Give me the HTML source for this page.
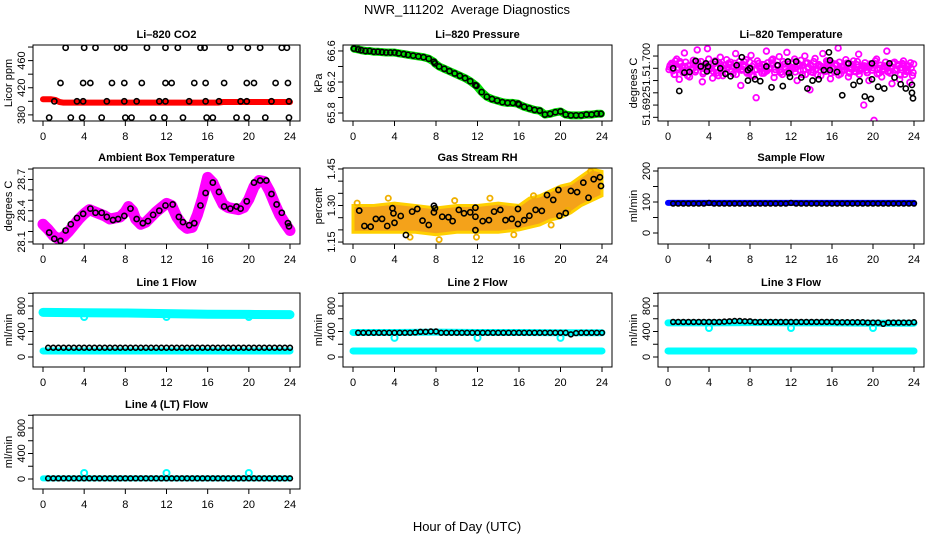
<!DOCTYPE html>
<html><head><meta charset="utf-8"><style>
html,body{margin:0;padding:0;background:#fff;}
svg{display:block;font-family:"Liberation Sans",Arial,sans-serif;}
.t{font-size:11px;fill:#000;}
.ttl{font-size:11px;font-weight:bold;fill:#000;}
</style></head><body>
<svg id="c" width="936" height="540" viewBox="0 0 936 540">
<text x="467" y="14" text-anchor="middle" style="font-size:13px;white-space:pre">NWR_111202&#160;&#160;Average Diagnostics</text>
<text x="467" y="531" text-anchor="middle" style="font-size:13px">Hour of Day (UTC)</text>
</svg>
<script>
// ---------- data ----------
const co2BlackHours=[2.2,4.0,5.1,7.2,7.9,10.1,11.9,13.1,15.3,15.7,18.2,19.9,21.1,23.2,23.7,1.7,3.9,4.6,6.7,7.9,9.6,11.9,12.5,14.7,15.8,17.6,19.8,20.5,22.6,23.8,1.1,3.3,3.9,6.2,7.9,9.1,11.3,11.9,14.2,15.8,17.1,19.2,19.8,22.2,23.9,0.6,2.7,3.8,5.7,8.0,8.6,10.7,11.8,13.6,15.9,16.5,18.8,19.8,21.6,23.9];
const co2BlackValues=[479,479,479,479,479,479,479,479,479,479,479,479,479,479,479,427,427,427,427,427,427,427,427,427,427,427,427,427,427,427,400,400,400,400,400,400,400,400,400,400,400,400,400,400,400,376,376,376,376,376,376,376,376,376,376,376,376,376,376,376];
const co2RedHours=[0,0.8,1.2,1.6,2,6,10,14,17,17.5,20,24];
const co2RedValues=[403,403,402,399,398,398,398,398,398,399,399,399];

const presHours=[0.1,0.5,0.8,1.2,1.6,2.0,2.4,2.8,3.2,3.6,4.0,4.4,4.9,5.3,5.8,6.3,6.8,7.3,7.8,7.9,8.3,8.8,9.3,9.8,10.3,10.8,11.3,11.8,11.9,12.4,12.9,13.4,13.9,14.4,14.9,15.4,15.9,16.0,16.5,17.0,17.5,18.0,18.5,19.0,19.5,20.0,20.5,21.0,21.5,22.0,22.5,23.0,23.5,23.9];
const presValues=[66.63,66.62,66.61,66.60,66.6,66.59,66.59,66.585,66.58,66.58,66.58,66.57,66.56,66.55,66.54,66.53,66.52,66.50,66.46,66.44,66.40,66.37,66.34,66.31,66.28,66.25,66.21,66.16,66.15,66.07,66.01,65.98,65.96,65.94,65.93,65.93,65.92,65.91,65.88,65.86,65.84,65.83,65.78,65.79,65.81,65.82,65.78,65.77,65.77,65.77,65.78,65.78,65.79,65.79];

const tempMagHours=[0.1,0.35,0.6,0.85,1.1,1.35,1.6,1.85,2.1,2.35,2.6,2.85,3.1,3.35,3.6,3.85,4.1,4.35,4.6,4.85,5.1,5.35,5.6,5.85,6.1,6.35,6.6,6.85,7.1,7.35,7.6,7.85,8.1,8.35,8.6,8.85,9.1,9.35,9.6,9.85,10.1,10.35,10.6,10.85,11.1,11.35,11.6,11.85,12.1,12.35,12.6,12.85,13.1,13.35,13.6,13.85,14.1,14.35,14.6,14.85,15.1,15.35,15.6,15.85,16.1,16.35,16.6,16.85,17.1,17.35,17.6,17.85,18.1,18.35,18.6,18.85,19.1,19.35,19.6,19.85,20.1,20.35,20.6,20.85,21.1,21.35,21.6,21.85,22.1,22.35,22.6,22.85,23.1,23.35,23.6,23.85];
const tempMagOffsets=[78,88,70,95,62,82,105,75,66,80,90,110,84,58,86,112,79,64,92,73,98,68,85,81,90,71,104,80,52,83,94,76,101,67,32,88,82,72,108,79,93,65,85,99,74,87,106,77,81,95,60,84,70,100,89,45,78,96,69,83,104,75,92,63,80,87,113,71,82,94,66,79,92,74,103,81,20,77,60,86,-5,95,72,66,84,108,76,55,90,79,62,88,70,83,57,68];
const tempMagOffsets2=[85,76,92,81,88,73,90,84,79,93,77,86,91,74,82,95,80,87,72,89,83,78,94,86,75,88,82,91,79,85,72,90,83,77,92,80,86,74,89,81,95,78,84,73,91,82,87,76,90,80,85,93,77,88,82,74,91,79,86,83,78,92,81,89,74,85,90,77,83,88,72,86,80,91,76,84,89,73,87,81,92,78,85,79,90,74,83,88,77,86,81,92,75,84,80,87];
const tempBlkHours=[0.5,1.1,1.6,2.1,2.7,3.2,3.7,3.8,3.9,4.6,5.1,5.6,6.1,6.7,7.2,7.8,7.8,8.0,8.5,9.0,9.6,10.1,10.7,11.2,11.7,11.8,11.9,12.5,13.0,13.6,14.1,14.7,15.2,15.7,15.8,15.8,16.5,17.0,17.6,18.1,18.7,19.2,19.8,19.9,19.9,20.5,21.1,21.6,22.1,22.7,23.2,23.8,23.8,23.9];
const tempBlkOffsets=[80,43,73,74,92,83,88,75,83,91,80,71,67,85,98,60,77,80,62,59,83,49,85,51,91,72,66,91,65,47,60,62,77,106,93,77,74,36,88,53,59,34,30,62,88,50,47,88,65,54,47,53,40,31];

const ambCurveHours=[0,0.5,1,1.5,2,2.5,3,3.5,4,4.5,5,6,6.5,7,7.5,8,8.3,8.7,9,9.5,10,10.5,11,11.5,12,12.5,13,13.5,14,14.5,15,15.5,16,16.5,17,17.5,18,18.5,19,19.5,20,20.5,21,21.5,22,22.5,23,23.5,24];
const ambCurveValues=[28.27,28.22,28.16,28.13,28.15,28.2,28.26,28.32,28.37,28.41,28.39,28.35,28.32,28.33,28.34,28.39,28.44,28.4,28.32,28.27,28.29,28.34,28.39,28.43,28.47,28.45,28.34,28.27,28.23,28.24,28.36,28.52,28.72,28.67,28.56,28.46,28.43,28.42,28.41,28.43,28.51,28.63,28.69,28.68,28.59,28.47,28.36,28.28,28.21];
const ambBlkHours=[0.6,1.1,1.7,2.2,2.7,3.3,3.9,4.6,5.1,5.7,6.2,6.8,7.3,7.9,8.5,9.1,9.7,10.2,10.7,11.3,11.9,12.6,13.2,13.6,14.2,14.7,15.3,15.8,16.5,17.1,17.6,18.2,18.8,19.2,19.8,20.5,21.1,21.7,22.2,22.7,23.2,23.8,23.9];
const ambBlkValues=[28.19,28.13,28.11,28.21,28.27,28.33,28.37,28.42,28.38,28.38,28.34,28.31,28.32,28.35,28.42,28.32,28.28,28.30,28.36,28.40,28.45,28.46,28.34,28.29,28.26,28.28,28.45,28.57,28.67,28.58,28.44,28.42,28.44,28.42,28.49,28.67,28.69,28.69,28.56,28.46,28.38,28.28,28.25];

const rhBandHours=[0,2,4,6,8,10,12,14,16,17,18,19,20,21,22,23,24];
const rhBandUpper=[1.30,1.30,1.31,1.30,1.29,1.30,1.30,1.31,1.30,1.33,1.34,1.36,1.38,1.39,1.42,1.45,1.44];
const rhBandLower=[1.19,1.19,1.19,1.19,1.18,1.19,1.19,1.19,1.20,1.21,1.22,1.24,1.25,1.27,1.30,1.32,1.34];
const rhOutHours=[0.4,3.4,5.5,8.3,9.8,11.9,13.2,15.5,17.4,19.1,20.7,22.9];
const rhOutValues=[1.31,1.33,1.17,1.16,1.32,1.17,1.33,1.18,1.34,1.22,1.28,1.44];
const rhBlkHours=[0.6,1.1,1.7,2.2,2.8,3.3,3.8,3.9,4.0,4.6,5.1,5.7,6.2,6.7,7.3,7.8,7.8,7.9,8.6,9.2,9.6,10.2,10.7,11.3,11.8,11.8,11.8,12.5,13.1,13.6,14.2,14.7,15.3,15.9,15.9,16.5,17.0,17.6,18.2,18.7,19.3,19.8,19.9,20.5,21.0,21.6,22.2,22.7,23.2,23.8,23.9];
const rhBlkValues=[1.279,1.216,1.213,1.245,1.245,1.216,1.289,1.268,1.229,1.257,1.179,1.275,1.286,1.238,1.220,1.272,1.299,1.289,1.254,1.252,1.236,1.282,1.268,1.272,1.254,1.291,1.199,1.236,1.240,1.275,1.282,1.240,1.245,1.286,1.224,1.240,1.258,1.282,1.278,1.343,1.323,1.364,1.258,1.269,1.360,1.355,1.394,1.332,1.408,1.416,1.380];

const flowHours=[0.5,1,1.5,2,2.5,3,3.5,4,4.5,5,5.5,6,6.5,7,7.5,8,8.5,9,9.5,10,10.5,11,11.5,12,12.5,13,13.5,14,14.5,15,15.5,16,16.5,17,17.5,18,18.5,19,19.5,20,20.5,21,21.5,22,22.5,23,23.5,24];
const sampleBlk=[95,95,95,95,95,95,95,97,95,95,95,95,95,95,95,95,95,95,95,95,95,95,95,97,95,95,95,95,95,95,95,95,95,95,95,95,95,95,95,95,95,95,95,95,95,95,95,95];
const line1Blk=[145,145,145,145,145,145,145,145,145,145,145,145,145,145,145,145,145,145,145,145,145,145,145,145,145,145,145,145,145,145,145,145,145,145,145,145,145,145,145,145,145,145,145,145,145,145,145,145];
const line2Blk=[380,380,380,380,380,380,380,380,380,380,380,385,395,395,400,400,380,380,380,380,380,380,380,380,380,380,380,380,380,380,380,380,380,380,380,380,380,380,380,380,380,355,375,380,380,380,380,380];
const line3Blk=[550,550,550,550,550,550,550,550,550,550,555,560,565,565,560,560,550,550,550,550,550,550,550,550,550,550,550,550,550,550,550,550,545,545,545,545,545,545,540,540,540,520,540,540,540,540,540,545];
const line4Blk=[10,10,10,10,10,10,10,10,10,10,10,10,10,10,10,10,10,10,10,10,10,10,10,10,10,10,10,10,10,10,10,10,10,10,10,10,10,10,10,10,10,10,10,10,10,10,10,10];
const bandHours=[0,4,8,12,16,20,24];
const sampleBand=[97,97,97,97,97,97,97];
const line1Upper=[700,695,690,680,670,668,665];
const line2Upper=[385,385,390,385,385,380,380];
const line3Upper=[535,535,540,535,535,530,530];
const lowBand=[95,95,95,95,95,95,95];
const line4Band=[10,10,10,10,10,10,10];
const dipHours=[4,12,20];
const line1Dips=[627,627,627];
const line2Dips=[300,300,300];
const line3Dips=[455,455,455];
const line4Out=[95,95,95];

const xTicks=[0,4,8,12,16,20,24];
const co2Ticks=[380,400,420,440,460,480]; const co2Labels=["380","","420","","460",""];
const presTicks=[65.8,66.0,66.2,66.4,66.6]; const presLabels=["65.8","","66.2","","66.6"];
const tempTicks=[0,20,40,60,80,100]; const tempLabels=["","","","","",""];
const tempLabelPos=[14,54,94]; const tempLabelText=["51.692","51.","51.700"];
const ambTicks=[28.1,28.2,28.3,28.4,28.5,28.6,28.7,28.8]; const ambLabels=["28.1","","","28.4","","","28.7",""];
const rhTicks=[1.15,1.20,1.25,1.30,1.35,1.40,1.45]; const rhLabels=["1.15","","","1.30","","","1.45"];
const sampleTicks=[0,50,100,150,200]; const sampleLabels=["0","","100","","200"];
const flowTicks=[0,200,400,600,800,1000]; const flowLabels=["0","","400","","800",""];

// ---------- drawing ----------
const NS="http://www.w3.org/2000/svg";
const svg=document.getElementById('c');
const cols=[[33,300],[343,612],[658,924]];
const rows=[[45,121],[168,244],[293,367],[415,489]];
function el(tag,parent){const e=document.createElementNS(NS,tag);parent.appendChild(e);return e;}

function panel(col,row,title,ylab,dom,ticks,labels,name){
  const [L,R]=cols[col],[T,B]=rows[row];
  const g=el('g',svg);
  
  
  const xs=h=>L+10+h*(R-L-20)/24;
  const ys=v=>B-(v-dom[0])/(dom[1]-dom[0])*(B-T);
  const tt=el('text',g);
  
  
  tt.setAttribute('class','ttl');tt.setAttribute('x',(L+R)/2);tt.setAttribute('y',T-7);tt.setAttribute('text-anchor','middle');tt.textContent=title;
  const yl=el('text',g);
  
  
  yl.setAttribute('class','t');yl.setAttribute('text-anchor','middle');
  yl.setAttribute('transform',`translate(${L-21},${(T+B)/2}) rotate(-90)`);yl.textContent=ylab;
  xTicks.forEach(h=>{
    const ln=el('line',g);
    
    
    ln.setAttribute('x1',xs(h));ln.setAttribute('x2',xs(h));ln.setAttribute('y1',B);ln.setAttribute('y2',B+5);ln.setAttribute('stroke','#000');
    const tx=el('text',g);
    
    
    tx.setAttribute('class','t');tx.setAttribute('x',xs(h));tx.setAttribute('y',B+19);tx.setAttribute('text-anchor','middle');tx.textContent=h;
  });
  ticks.forEach((v,i)=>{
    const y=ys(v);
    const ln=el('line',g);
    
    
    ln.setAttribute('x1',L-5);ln.setAttribute('x2',L);ln.setAttribute('y1',y);ln.setAttribute('y2',y);ln.setAttribute('stroke','#000');
    if(labels[i]){
      const tx=el('text',g);
      
      
      tx.setAttribute('class','t');tx.setAttribute('text-anchor','middle');
      tx.setAttribute('transform',`translate(${L-8},${y}) rotate(-90)`);tx.textContent=labels[i];
    }
  });
  const clip=el('clipPath',g);clip.setAttribute('id','clip'+name);
  const cr=el('rect',clip);cr.setAttribute('x',L);cr.setAttribute('y',T);cr.setAttribute('width',R-L);cr.setAttribute('height',B-T);
  const plot=el('g',g);plot.setAttribute('clip-path',`url(#clip${name})`);
  
  
  const box=el('rect',g);
  
  
  box.setAttribute('x',L);box.setAttribute('y',T);box.setAttribute('width',R-L);box.setAttribute('height',B-T);box.setAttribute('fill','none');box.setAttribute('stroke','#000');
  return {plot,xs,ys,g,L};
}
function band(p,hrs,vals,color,w,nm){
  const pl=el('polyline',p.plot);
  
  
  pl.setAttribute('points',hrs.map((h,i)=>p.xs(h)+','+p.ys(vals[i])).join(' '));
  pl.setAttribute('fill','none');pl.setAttribute('stroke',color);pl.setAttribute('stroke-width',w);pl.setAttribute('stroke-linejoin','round');pl.setAttribute('stroke-linecap','round');
}
function dots(p,hrs,vals,color,r,sw,nm){
  hrs.forEach((h,i)=>{
    const c=el('circle',p.plot);
    
    
    c.setAttribute('cx',p.xs(h));c.setAttribute('cy',p.ys(vals[i]));c.setAttribute('r',r);c.setAttribute('fill','none');c.setAttribute('stroke',color);c.setAttribute('stroke-width',sw);
  });
}

// CO2
let p=panel(0,0,'Li–820 CO2','Licor ppm',[371,483],co2Ticks,co2Labels,'co2-panel');
band(p,co2RedHours,co2RedValues,'#ff0000',6,'co2-red-band');
dots(p,co2BlackHours,co2BlackValues,'#000',2.6,1.6,'co2-black-point');
// Pressure
p=panel(1,0,'Li–820 Pressure','kPa',[65.697,66.677],presTicks,presLabels,'pressure-panel');
band(p,presHours,presValues,'#00e000',8,'pressure-green-band');
dots(p,presHours,presValues,'#000',2.6,1.6,'pressure-black-point');
// Temperature
p=panel(2,0,'Li–820 Temperature','degrees C',[-6,118],tempTicks,tempLabels,'li820-temp-panel');
tempLabelPos.forEach((v,i)=>{
  const tx=el('text',p.g);
  
  
  tx.setAttribute('class','t');tx.setAttribute('text-anchor','middle');
  tx.setAttribute('transform',`translate(${p.L-8},${p.ys(v)}) rotate(-90)`);tx.textContent=tempLabelText[i];
});
dots(p,tempMagHours,tempMagOffsets,'#ff00ff',2.8,1.8,'temp-magenta-point');
dots(p,tempMagHours.map(h=>h+0.12),tempMagOffsets2,'#ff00ff',2.8,1.8,'temp-magenta-point');
dots(p,tempMagHours.map(h=>h+0.06),tempMagOffsets2.map((v,i)=>tempMagOffsets2[(i+11)%tempMagOffsets2.length]-4),'#ff00ff',2.8,1.8,'temp-magenta-point');
dots(p,tempBlkHours,tempBlkOffsets,'#000',2.6,1.6,'temp-black-point');
// Ambient
p=panel(0,1,'Ambient Box Temperature','degrees C',[28.08,28.81],ambTicks,ambLabels,'ambient-temp-panel');
band(p,ambCurveHours,ambCurveValues,'#ff00ff',11,'ambient-magenta-band');
dots(p,ambBlkHours,ambBlkValues,'#000',2.6,1.6,'ambient-black-point');
// RH
p=panel(1,1,'Gas Stream RH','percent',[1.142,1.454],rhTicks,rhLabels,'rh-panel');
{const pg=el('polygon',p.plot);


const pts=rhBandHours.map((h,i)=>p.xs(h)+','+p.ys(rhBandUpper[i])).concat(rhBandHours.map((h,i)=>p.xs(h)+','+p.ys(rhBandLower[i])).reverse());
pg.setAttribute('points',pts.join(' '));pg.setAttribute('fill','#f4a21a');pg.setAttribute('stroke','#ffd000');pg.setAttribute('stroke-width','3');}
dots(p,rhOutHours,rhOutValues,'#f0b000',2.6,1.8,'rh-orange-point');
dots(p,rhBlkHours,rhBlkValues,'#000',2.6,1.6,'rh-black-point');
// Sample flow
p=panel(2,1,'Sample Flow','ml/min',[-35.5,209.7],sampleTicks,sampleLabels,'sample-flow-panel');
band(p,bandHours,sampleBand,'#0000ff',6,'sample-blue-band');
dots(p,flowHours,sampleBlk,'#000',2.4,1.6,'sample-black-point');
// Line 1
p=panel(0,2,'Line 1 Flow','ml/min',[-157,1004],flowTicks,flowLabels,'line1-flow-panel');
band(p,bandHours,line1Upper,'#00ffff',9,'line1-cyan-band');
band(p,bandHours,lowBand,'#00ffff',7,'line1-cyan-low-band');
dots(p,dipHours,line1Dips,'#00ffff',3,2,'line1-cyan-dip');
dots(p,flowHours,line1Blk,'#000',2.4,1.6,'line1-black-point');
// Line 2
p=panel(1,2,'Line 2 Flow','ml/min',[-157,1004],flowTicks,flowLabels,'line2-flow-panel');
band(p,bandHours,line2Upper,'#00ffff',7,'line2-cyan-band');
band(p,bandHours,lowBand,'#00ffff',7,'line2-cyan-low-band');
dots(p,dipHours,line2Dips,'#00ffff',3,2,'line2-cyan-dip');
dots(p,flowHours,line2Blk,'#000',2.4,1.6,'line2-black-point');
// Line 3
p=panel(2,2,'Line 3 Flow','ml/min',[-157,1004],flowTicks,flowLabels,'line3-flow-panel');
band(p,bandHours,line3Upper,'#00ffff',7,'line3-cyan-band');
band(p,bandHours,lowBand,'#00ffff',7,'line3-cyan-low-band');
dots(p,dipHours,line3Dips,'#00ffff',3,2,'line3-cyan-dip');
dots(p,flowHours,line3Blk,'#000',2.4,1.6,'line3-black-point');
// Line 4
p=panel(0,3,'Line 4 (LT) Flow','ml/min',[-157,1004],flowTicks,flowLabels,'line4-flow-panel');
band(p,bandHours,line4Band,'#00ffff',6,'line4-cyan-band');
dots(p,dipHours,line4Out,'#00ffff',3,2,'line4-cyan-outlier');
dots(p,flowHours,line4Blk,'#000',2.4,1.6,'line4-black-point');
</script>
</body></html>
